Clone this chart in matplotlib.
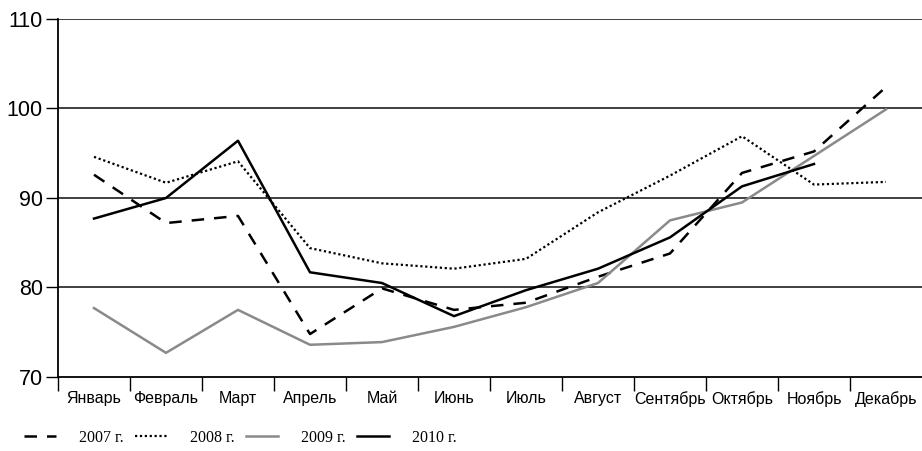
import numpy as np
import matplotlib
matplotlib.use("Agg")
import matplotlib.pyplot as plt
from matplotlib.ticker import FixedLocator

months = ["Январь", "Февраль", "Март", "Апрель", "Май", "Июнь",
          "Июль", "Август", "Сентябрь", "Октябрь", "Ноябрь", "Декабрь"]
s2007 = [92.6, 87.2, 88.0, 74.8, 79.9, 77.5, 78.3, 81.2, 83.8, 92.8, 95.2, 102.4]
s2008 = [94.6, 91.7, 94.1, 84.4, 82.7, 82.1, 83.2, 88.4, 92.5, 96.9, 91.5, 91.8]
s2009 = [77.7, 72.7, 77.5, 73.6, 73.9, 75.6, 77.8, 80.5, 87.5, 89.5, 94.7, 99.9]
s2010 = [87.7, 90.0, 96.4, 81.7, 80.5, 76.8, 79.7, 82.1, 85.6, 91.3, 93.8, np.nan]
labels = ["2007 г.", "2008 г.", "2009 г.", "2010 г."]
yticks = [70, 80, 90, 100, 110]

fig = plt.figure(figsize=(9.22, 4.51), dpi=100)
ax = fig.add_axes([58/922, 1-377/451, 1-58/922, (377-19)/451])
x = np.arange(len(months))

h1, = ax.plot(x, s2007, color="black", lw=1.8, linestyle=(0, (5, 4)))
h2, = ax.plot(x, s2008, color="black", lw=1.6, linestyle=(0, (1, 1.2)))
h3, = ax.plot(x, s2009, color="#8a8a8a", lw=1.8)
h4, = ax.plot(x, s2010, color="black", lw=1.8)

ax.set_xlim(-0.5, 11.5)
ax.set_ylim(70, 110)
ax.set_yticks(yticks)
ax.set_yticklabels([str(v) for v in yticks], fontsize=15.5, family="Liberation Sans")
ax.tick_params(axis="y", direction="out", length=9, width=1, pad=2)
for v in yticks[1:]:
    ax.axhline(v, color="#303030", lw=1.3, zorder=0)

ax.set_xticks(x)
ax.set_xticklabels(months, fontsize=11.5, family="Liberation Sans")
ax.tick_params(axis="x", which="major", length=0, pad=10)
ax.xaxis.set_minor_locator(FixedLocator(np.arange(-0.5, 11.0, 1.0)))
ax.tick_params(axis="x", which="minor", direction="out", length=10, width=1)

for sp in ["top", "right"]:
    ax.spines[sp].set_visible(False)
for sp in ["left", "bottom"]:
    ax.spines[sp].set_linewidth(1.3)

fig.legend([h1, h2, h3, h4], labels, loc="center left", bbox_to_anchor=(24/922, 0.029),
           ncol=4, frameon=False, handlelength=2.0, handletextpad=1.45, columnspacing=0.7,
           borderpad=0, borderaxespad=0,
           prop={"family": "Liberation Serif", "size": 11.5})

fig.savefig("out.png", dpi=100)
